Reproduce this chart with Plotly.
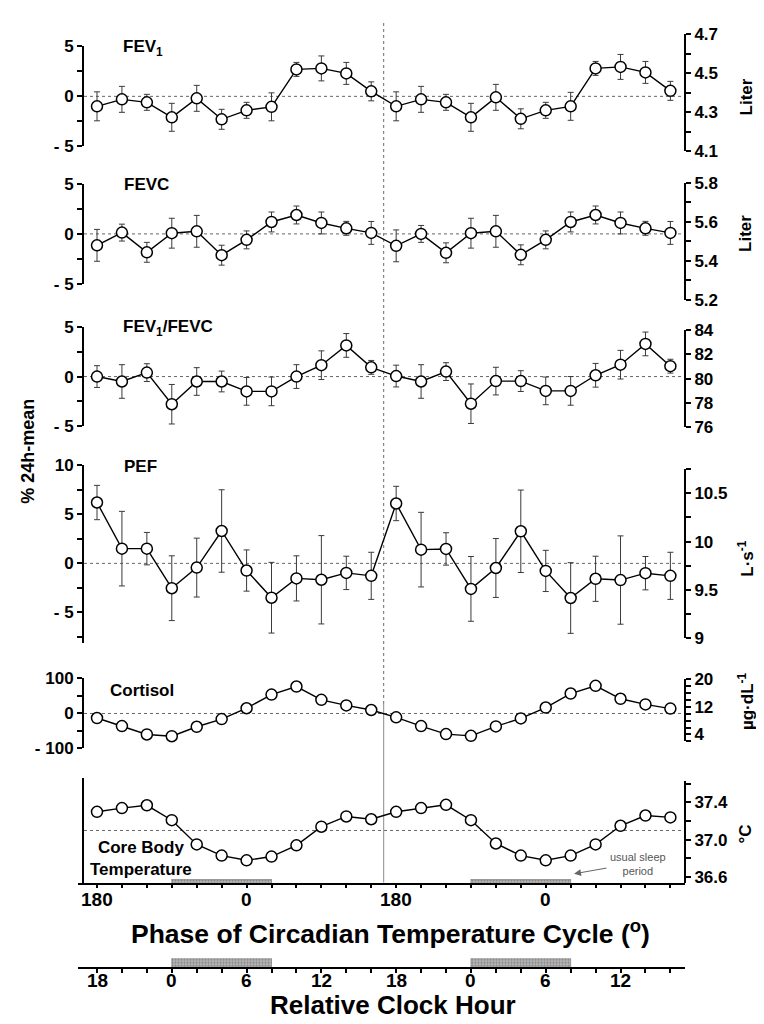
import plotly.graph_objects as go

W, H = 764, 1024

# ---------------- data ----------------
elapsed_h = [0, 2, 4, 6, 8, 10, 12, 14, 16, 18, 20, 22,
             24, 26, 28, 30, 32, 34, 36, 38, 40, 42, 44, 46]

fev1 = [-1.0, -0.3, -0.6, -2.1, -0.2, -2.3, -1.4, -1.05, 2.7, 2.8, 2.3, 0.5,
        -1.0, -0.3, -0.6, -2.1, -0.1, -2.25, -1.4, -1.0, 2.8, 2.95, 2.4, 0.55]
fev1_err = [1.45, 1.3, 0.8, 1.4, 1.3, 1.0, 0.8, 1.4, 0.7, 1.25, 1.1, 0.95,
            1.45, 1.3, 0.8, 1.4, 1.3, 1.0, 0.8, 1.4, 0.7, 1.25, 1.1, 0.95]

fevc = [-1.15, 0.13, -1.85, 0.07, 0.26, -2.14, -0.6, 1.2, 1.9, 1.1, 0.56, 0.1,
        -1.2, 0.0, -1.9, 0.07, 0.26, -2.1, -0.6, 1.2, 1.9, 1.1, 0.56, 0.1]
fevc_err = [1.6, 0.85, 1.0, 1.5, 1.6, 1.0, 0.9, 1.0, 0.9, 1.1, 0.7, 1.15,
            1.6, 0.85, 1.0, 1.5, 1.6, 1.0, 0.9, 1.0, 0.9, 1.1, 0.7, 1.15]

ratio = [0.0, -0.5, 0.4, -2.8, -0.5, -0.5, -1.5, -1.5, 0.0, 1.15, 3.15, 0.93,
         0.05, -0.5, 0.5, -2.75, -0.46, -0.46, -1.45, -1.45, 0.13, 1.2, 3.3, 1.05]
ratio_err = [1.1, 1.7, 0.9, 2.0, 1.4, 1.05, 1.4, 1.45, 1.2, 1.45, 1.2, 0.7,
             1.1, 1.7, 0.9, 2.0, 1.4, 1.05, 1.4, 1.45, 1.2, 1.45, 1.2, 0.7]

pef = [6.2, 1.5, 1.5, -2.53, -0.43, 3.3, -0.73, -3.5, -1.53, -1.67, -0.97, -1.27,
       6.1, 1.4, 1.47, -2.6, -0.47, 3.27, -0.77, -3.53, -1.57, -1.7, -1.0, -1.27]
pef_err = [1.75, 3.8, 1.65, 3.3, 3.0, 4.2, 2.1, 3.6, 2.3, 4.5, 1.7, 2.4,
           1.75, 3.8, 1.65, 3.3, 3.0, 4.2, 2.1, 3.6, 2.3, 4.5, 1.7, 2.4]

cortisol = [-13, -36, -60, -65, -38, -16, 15, 54, 77, 39, 23, 10,
            -11, -36, -59, -64, -37, -14, 17, 57, 79, 42, 26, 14]

core_temp = [37.30, 37.34, 37.37, 37.21, 36.95, 36.83, 36.78, 36.82, 36.94, 37.14, 37.25, 37.22,
             37.30, 37.34, 37.375, 37.21, 36.96, 36.83, 36.78, 36.83, 36.95, 37.15, 37.26, 37.24]
temp_mean = 37.10

phase_tick_h = [0, 12, 24, 36]
phase_tick_text = ["180", "0", "180", "0"]
clock_tick_h = [0, 6, 12, 18, 24, 30, 36, 42]
clock_tick_text = ["18", "0", "6", "12", "18", "0", "6", "12"]
sleep_start_h = [6, 30]
sleep_end_h = [14, 38]
divider_h = 23

# labelled ticks / minor tick steps of each y axis
pct5_ticks = [-5, 0, 5]
pct5_text = ["- 5", "0", "5"]
pct5_minor = 2.5
pef_pct_ticks = [-5, 0, 5, 10]
pef_pct_text = ["- 5", "0", "5", "10"]
pef_pct_minor = 2.5
cort_pct_ticks = [-100, 0, 100]
cort_pct_text = ["- 100", "0", "100"]
cort_pct_minor = 50

fev1_L_ticks = [4.1, 4.3, 4.5, 4.7]
fev1_L_text = ["4.1", "4.3", "4.5", "4.7"]
fev1_L_minor = 0.1
fevc_L_ticks = [5.2, 5.4, 5.6, 5.8]
fevc_L_text = ["5.2", "5.4", "5.6", "5.8"]
fevc_L_minor = 0.1
ratio_abs_ticks = [76, 78, 80, 82, 84]
ratio_abs_text = ["76", "78", "80", "82", "84"]
ratio_abs_minor = 2
pef_abs_ticks = [9.0, 9.5, 10.0, 10.5]
pef_abs_text = ["9", "9.5", "10", "10.5"]
pef_abs_minor = 0.25
cort_abs_ticks = [4, 12, 20]
cort_abs_text = ["4", "12", "20"]
cort_abs_minor = 2
temp_ticks = [36.6, 37.0, 37.4]
temp_text = ["36.6", "37.0", "37.4"]
temp_minor = 0.2

# ---------------- geometry helpers ----------------
FONT = "Liberation Sans, Arial, Helvetica, sans-serif"
P0_PX, PX_PER_H = 89.0, 24.93 / 2
X_L_PX, X_R_PX = 70.0, 677.0
LEFT_AX_PX, RIGHT_AX_PX = 75.0, 677.0


def py(p):
    return 1 - p / H


def px(p):
    return p / W


def dom(top_px, bot_px):
    return [py(bot_px), py(top_px)]


x_range = [(X_L_PX - P0_PX) / PX_PER_H, (X_R_PX - P0_PX) / PX_PER_H]

fig = go.Figure()

tickfont = dict(family=FONT, size=17, color="black", weight="bold")


def y_axis(top, bot, rng, tv, tt, minor, side):
    d = dict(domain=dom(top, bot), range=rng, anchor="free",
             position=px(LEFT_AX_PX if side == "left" else RIGHT_AX_PX), side=side,
             showline=True, linecolor="black", linewidth=2, ticks="outside", ticklen=5,
             tickwidth=2, tickcolor="black", tickmode="array", tickvals=tv, ticktext=tt,
             tickfont=tickfont, showgrid=False, zeroline=False, fixedrange=True)
    if minor:
        d["minor"] = dict(tick0=rng[0] if side == "right" else 0, dtick=minor, ticks="outside",
                          ticklen=5, tickwidth=2, tickcolor="black", showgrid=False)
    return d


layout = dict(width=W, height=H, margin=dict(l=0, r=0, t=0, b=0),
              plot_bgcolor="rgba(0,0,0,0)", paper_bgcolor="white", showlegend=False)

# left (% 24h-mean) axes
layout["yaxis"] = y_axis(30, 131.7, [-5, 5], pct5_ticks, pct5_text, pct5_minor, "left")
layout["yaxis2"] = y_axis(170.3, 271.7, [-5, 5], pct5_ticks, pct5_text, pct5_minor, "left")
layout["yaxis3"] = y_axis(316, 416.7, [-5, 5], pct5_ticks, pct5_text, pct5_minor, "left")
layout["yaxis4"] = y_axis(456.7, 637.7, [-8.1, 10], pef_pct_ticks, pef_pct_text, pef_pct_minor,
                          "left")
layout["yaxis5"] = y_axis(674, 745.3, [-100, 100], cort_pct_ticks, cort_pct_text,
                          cort_pct_minor, "left")
ya6 = y_axis(775, 882.7, [0, 1], [], [], None, "left")
ya6["ticks"] = ""
ya6["showticklabels"] = False
layout["yaxis6"] = ya6
# right (absolute) axes
layout["yaxis7"] = y_axis(17.7, 136.7, [4.1, 4.7], fev1_L_ticks, fev1_L_text, fev1_L_minor,
                          "right")
layout["yaxis8"] = y_axis(169, 288, [5.2, 5.8], fevc_L_ticks, fevc_L_text, fevc_L_minor, "right")
layout["yaxis9"] = y_axis(319, 418, [76, 84], ratio_abs_ticks, ratio_abs_text, ratio_abs_minor,
                          "right")
layout["yaxis10"] = y_axis(460.7, 633, [9, 10.75], pef_abs_ticks, pef_abs_text, pef_abs_minor,
                           "right")
layout["yaxis11"] = y_axis(675, 738, [2, 20], cort_abs_ticks, cort_abs_text, cort_abs_minor,
                           "right")
ya12 = y_axis(778, 882.7, [36.533, 37.635], temp_ticks, temp_text, temp_minor, "right")
ya12["minor"]["tick0"] = 36.6
layout["yaxis12"] = ya12
# tiny axes for sleep bars
layout["yaxis13"] = dict(domain=dom(878.3, 882.7), range=[0, 1], anchor="x", visible=False,
                         fixedrange=True)
layout["yaxis14"] = dict(domain=dom(959, 968.3), range=[0, 1], anchor="x2", visible=False,
                         fixedrange=True)

layout["xaxis"] = dict(domain=[px(X_L_PX), px(X_R_PX)], range=x_range, anchor="y13",
                       showline=True, linecolor="black", linewidth=2, ticks="outside",
                       ticklen=3, tickwidth=1.5, tickcolor="black",
                       tickmode="array", tickvals=elapsed_h, showticklabels=False,
                       showgrid=False, zeroline=False, fixedrange=True)
layout["xaxis2"] = dict(domain=[px(X_L_PX), px(X_R_PX)], range=x_range, anchor="y14",
                        showline=True, linecolor="black", linewidth=2, ticks="outside",
                        ticklen=4, tickwidth=2, tickcolor="black",
                        tickmode="array", tickvals=elapsed_h, showticklabels=False,
                        showgrid=False, zeroline=False, fixedrange=True)

fig.update_layout(**layout)

marker = dict(symbol="circle", size=11, color="white", line=dict(color="black", width=1.5))
errstyle = dict(type="data", color="#3a3a3a", thickness=1, width=3)

series = [("y", fev1, fev1_err), ("y2", fevc, fevc_err), ("y3", ratio, ratio_err),
          ("y4", pef, pef_err)]
for yax, vals, err in series:
    fig.add_trace(go.Scatter(x=elapsed_h, y=vals, xaxis="x", yaxis=yax, mode="lines+markers",
                             line=dict(color="black", width=1.4), marker=marker,
                             error_y=dict(array=err, **errstyle), hoverinfo="skip",
                             cliponaxis=False))

fig.add_trace(go.Scatter(x=elapsed_h, y=cortisol, xaxis="x", yaxis="y5", mode="lines+markers",
                         line=dict(color="black", width=1.4), marker=marker, hoverinfo="skip",
                         cliponaxis=False))
fig.add_trace(go.Scatter(x=elapsed_h, y=core_temp, xaxis="x", yaxis="y12", mode="lines+markers",
                         line=dict(color="black", width=1.4), marker=marker, hoverinfo="skip",
                         cliponaxis=False))

# invisible traces so every axis gets drawn
for yax in ["y6", "y7", "y8", "y9", "y10", "y11"]:
    fig.add_trace(go.Scatter(x=[elapsed_h[0]], y=[None], xaxis="x", yaxis=yax, mode="markers",
                             marker=dict(opacity=0), hoverinfo="skip"))

# sleep bars
sleep_mid = [(s + e) / 2 for s, e in zip(sleep_start_h, sleep_end_h)]
sleep_w = [e - s for s, e in zip(sleep_start_h, sleep_end_h)]
for xa, ya in [("x", "y13"), ("x2", "y14")]:
    fig.add_trace(go.Bar(x=sleep_mid, y=[1] * len(sleep_mid), width=sleep_w, xaxis=xa, yaxis=ya,
                         marker=dict(color="#a8a8a8", line=dict(color="#6e6e6e", width=0.6),
                                     pattern=dict(shape=".", fgcolor="#555555", bgcolor="#b5b5b5",
                                                  size=3, solidity=0.4)),
                         hoverinfo="skip"))

shapes = []
# dotted reference lines (24h mean)
for yref, yv in [("y", 0), ("y2", 0), ("y3", 0), ("y4", 0), ("y5", 0), ("y12", temp_mean)]:
    shapes.append(dict(type="line", xref="paper", yref=yref, x0=px(LEFT_AX_PX + 1),
                       x1=px(RIGHT_AX_PX), y0=yv, y1=yv, layer="below",
                       line=dict(color="#666666", width=1, dash="dot")))
# cycle divider
shapes.append(dict(type="line", xref="x", yref="paper", x0=divider_h, x1=divider_h,
                   y0=py(700), y1=py(6), layer="below",
                   line=dict(color="#6a6a6a", width=1, dash="dot")))
shapes.append(dict(type="line", xref="x", yref="paper", x0=divider_h, x1=divider_h,
                   y0=py(882), y1=py(700), layer="below",
                   line=dict(color="#8a8a8a", width=1)))

annotations = []


def txt(text, x, y, size=17, bold=True, angle=0, color="black", xanchor="center"):
    annotations.append(dict(text=text, x=px(x), y=py(y), xref="paper", yref="paper",
                            showarrow=False, textangle=angle, xanchor=xanchor, yanchor="middle",
                            font=dict(family=FONT, size=size, color=color,
                                      weight="bold" if bold else "normal")))


# bottom axis tick labels, placed at data positions of the shared hour axis
for h, t in zip(phase_tick_h, phase_tick_text):
    annotations.append(dict(text=t, x=h, y=py(899), xref="x", yref="paper", showarrow=False,
                            xanchor="center", yanchor="middle",
                            font=dict(family=FONT, size=19, color="black", weight="bold")))
for h, t in zip(clock_tick_h, clock_tick_text):
    annotations.append(dict(text=t, x=h, y=py(982), xref="x2", yref="paper", showarrow=False,
                            xanchor="center", yanchor="middle",
                            font=dict(family=FONT, size=19, color="black", weight="bold")))

txt("FEV<sub>1</sub>", 113, 32, xanchor="left")
txt("FEVC", 114, 171, xanchor="left")
txt("FEV<sub>1</sub>/FEVC", 113, 317, xanchor="left")
txt("PEF", 114, 458, xanchor="left")
txt("Cortisol", 100, 686, xanchor="left")
txt("Core Body<br>Temperature", 133, 857)
txt("% 24h-mean", 20, 443, size=18, angle=-90)
RT_X = 738
txt("Liter", RT_X, 82, size=17, angle=-90)
txt("Liter", RT_X, 221, size=17, angle=-90)
txt("L·s<sup>-1</sup>", RT_X, 552, size=17, angle=-90)
txt("µg·dL<sup>-1</sup>", RT_X, 697, size=17, angle=-90)
txt("°C", RT_X, 833, size=17, angle=-90)
txt("Phase of Circadian Temperature Cycle (<sup>o</sup>)", 382, 932, size=26.5)
txt("Relative Clock Hour", 385, 1007, size=26)
txt("usual sleep<br>period", 630, 863, size=11, bold=False, color="#555555")
annotations.append(dict(x=px(566), y=py(873), xref="paper", yref="paper", text="",
                        showarrow=True, ax=34, ay=-6, arrowhead=2, arrowsize=1.4,
                        arrowwidth=1, arrowcolor="#666666"))

fig.update_layout(shapes=shapes, annotations=annotations)
fig.write_html("out.html")
